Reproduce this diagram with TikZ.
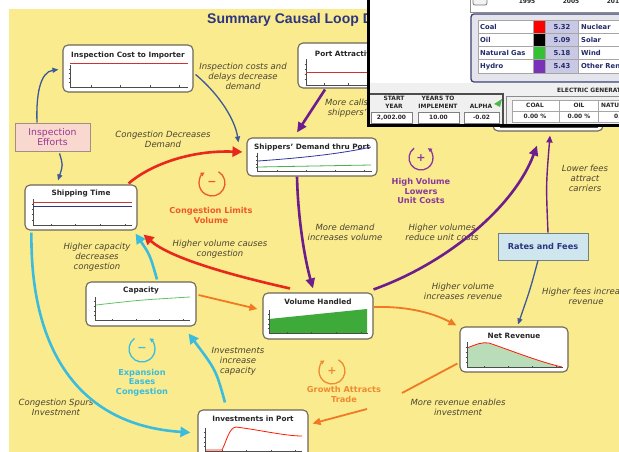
\documentclass[tikz,border=0pt]{standalone}
\usepackage{fontspec}
\setmainfont{DejaVu Sans}
\newfontfamily\titlefont{Liberation Sans}
\usetikzlibrary{arrows.meta,calc}
\definecolor{bgy}{HTML}{FAEB8E}
\definecolor{redA}{HTML}{E8281C}
\definecolor{purA}{HTML}{6E1E8C}
\definecolor{cyanA}{HTML}{3CBCDC}
\definecolor{oraA}{HTML}{F07A24}
\definecolor{bluA}{HTML}{3D5A98}
\definecolor{lblc}{HTML}{4A4430}
\definecolor{boxc}{HTML}{6E6656}
\definecolor{navy}{HTML}{2B3580}
\definecolor{navyP}{HTML}{3A3F6E}
\definecolor{panelG}{HTML}{E4E4EC}
\definecolor{lav}{HTML}{C9C9E6}
\definecolor{greenF}{HTML}{3DAA3A}
\definecolor{lgreen}{HTML}{BADDB9}
\definecolor{pinkF}{HTML}{F9D9CF}
\definecolor{magT}{HTML}{9B3593}
\definecolor{blueF}{HTML}{CFE6EF}
\definecolor{loopO}{HTML}{EE5A28}
\definecolor{loopP}{HTML}{8A3A9A}
\definecolor{loopG}{HTML}{F08A30}
\tikzset{
 chart/.style={draw=boxc, line width=1.1pt, fill=white, rounded corners=5pt, inner sep=0pt},
 ttl/.style={font=\fontsize{7.3}{8.5}\selectfont\bfseries, text=black!85, inner sep=0pt},
 lbl/.style={font=\fontsize{8.5}{10}\selectfont\itshape, text=lblc, align=center, inner sep=0pt},
 loopl/.style={font=\fontsize{8.2}{9.7}\selectfont\bfseries, align=center, inner sep=0pt},
 sign/.style={font=\fontsize{11}{11}\selectfont\bfseries, inner sep=0pt},
 axisl/.style={draw=black!70, line width=0.6pt},
 redline/.style={draw=red!75!black!80, line width=0.8pt},
 arrR/.style={draw=redA, line width=2.6pt, -{Triangle[length=10pt,width=10pt]}},
 arrP/.style={draw=purA, line width=2.6pt, -{Triangle[length=10pt,width=9pt]}},
 arrPt/.style={draw=purA, line width=1.4pt, -{Triangle[length=7pt,width=6pt]}},
 arrC/.style={draw=cyanA, line width=2.6pt, -{Triangle[length=10pt,width=10pt]}},
 arrO/.style={draw=oraA, line width=1.8pt, -{Triangle[length=8pt,width=7pt]}},
 arrB/.style={draw=bluA, line width=1.3pt, -{Triangle[length=6pt,width=5pt]}},
 tiny/.style={font=\fontsize{5.9}{7}\selectfont\bfseries, text=black!85, inner sep=0pt},
 leg/.style={font=\fontsize{6.8}{8}\selectfont\bfseries, text=navy!80!black, inner sep=0pt},
}
\newcommand{\chartaxes}[4]{%
 \draw[axisl] (#1,#2) -- (#1,#4) -- (#3,#4);
 \foreach \t in {0.18,0.43,0.68,0.93}{\draw[axisl] ({#1+\t*(#3-#1)},#4) -- ++(0,-1.5);}
 \foreach \t in {0.2,0.4,0.6,0.8}{\draw[axisl] (#1-1.5,{#2+\t*(#4-#2)}) -- (#1,{#2+\t*(#4-#2)});}
}
\begin{document}
\begin{tikzpicture}[x=1pt,y=-1pt]
\useasboundingbox (0,0) rectangle (619,452);
\fill[bgy] (9,9) rectangle (640,470);
\node[anchor=west, font=\titlefont\bfseries\fontsize{14}{16}\selectfont, text=navy, inner sep=0pt] (title) at (207,20) {Summary Causal Loop Diagram};

% ---------- chart boxes ----------
\node[chart, minimum width=130pt, minimum height=47pt] (ici) at (128,68.5) {};
\node[ttl] (icit) at (128,55.5) {Inspection Cost to Importer};
\chartaxes{70}{65}{188}{87}
\draw[redline] (70,63) -- (188,63);

\node[chart, minimum width=114pt, minimum height=45pt] (pa) at (355,65.5) {};
\node[ttl] (pat) at (355,54) {Port Attractiveness};
\chartaxes{306}{59}{405}{85}
\draw[redline] (306,72) -- (405,72);

\node[chart, minimum width=130pt, minimum height=38pt] (sd) at (312,157) {};
\node[ttl] (sdt) at (312,147.5) {Shippers' Demand thru Port};
\chartaxes{257}{153}{372}{171}
\draw[draw=blue!55!black!80, line width=0.8pt] (258,161) .. controls (300,158) and (340,154) .. (371,147);
\draw[draw=green!55!black!70, line width=0.8pt] (258,167) -- (371,165);

\node[chart, minimum width=112pt, minimum height=45pt] (st) at (81,207.5) {};
\node[ttl] (stt) at (81,193.5) {Shipping Time};
\chartaxes{33}{199}{132}{225}
\draw[redline] (33,202) -- (132,202);
\draw[draw=navy, line width=0.8pt] (33,206) -- (132,206);

\node[chart, minimum width=110pt, minimum height=44pt] (cap) at (141,304) {};
\node[ttl] (capt) at (141,290.5) {Capacity};
\chartaxes{95}{297}{190}{320}
\draw[draw=green!60!black!60, line width=0.8pt] (96,305) .. controls (140,300) .. (190,297);

\node[chart, minimum width=110pt, minimum height=46pt] (vh) at (318,316) {};
\node[ttl] (vht) at (318,302) {Volume Handled};
\fill[greenF] (269,319) -- (367,309) -- (367,333) -- (269,333) -- cycle;
\chartaxes{269}{310}{368}{333}

\node[chart, minimum width=108pt, minimum height=45pt] (nr) at (514,349.5) {};
\node[ttl] (nrt) at (514,336) {Net Revenue};
\fill[lgreen] (467,348) .. controls (477,344) and (482,342) .. (489,343) .. controls (515,352) and (540,362) .. (562,367) -- (467,367) -- cycle;
\draw[draw=red!80!orange, line width=0.8pt] (467,348) .. controls (477,344) and (482,342) .. (489,343) .. controls (515,352) and (540,362) .. (562,367);
\chartaxes{467}{342}{563}{367}

\node[chart, minimum width=110pt, minimum height=55pt] (ip) at (253,437.5) {};
\node[ttl] (ipt) at (253,419) {Investments in Port};
\chartaxes{205}{428}{302}{451}
\draw[draw=red!80!orange, line width=0.8pt] (206,450) -- (222,450) .. controls (227,440) and (229,428) .. (236,427) .. controls (260,430) and (285,436) .. (302,436);

\node[chart, minimum width=110pt, minimum height=36pt] (hid) at (548,113) {};
\draw[axisl] (500,127) -- (598,127);

\node[draw=black!35!pinkF, fill=pinkF, line width=0.8pt, minimum width=75pt, minimum height=28pt, inner sep=0pt, align=center, font=\fontsize{9.3}{10.5}\selectfont, text=magT] (ie) at (52.5,137) {Inspection\\Efforts};
\node[draw=black!45!blueF, fill=blueF, line width=0.8pt, minimum width=90pt, minimum height=27pt, inner sep=0pt, font=\fontsize{8.2}{9}\selectfont\bfseries, text=navy] (rf) at (543,246.5) {Rates and Fees};

% ---------- loop markers ----------
\draw[loopO, line width=1.3pt, -{Triangle[length=4pt,width=4pt]}] (212,183) ++(-60:13) arc[start angle=-60, end angle=235, radius=13];
\node[sign, text=loopO] (s1) at (212,183) {−};
\node[loopl, text=loopO] (l1) at (211,215.5) {Congestion Limits\\Volume};

\draw[loopP, line width=1.3pt, -{Triangle[length=4pt,width=4pt]}] (421,158) ++(235:12) arc[start angle=235, end angle=-55, radius=12];
\node[sign, text=loopP] (s2) at (421,158) {+};
\node[loopl, text=loopP] (l2) at (421,191) {High Volume\\Lowers\\Unit Costs};

\draw[cyanA, line width=1.3pt, -{Triangle[length=4pt,width=4pt]}] (142,349) ++(235:13) arc[start angle=235, end angle=-55, radius=13];
\node[sign, text=cyanA] (s3) at (142,349) {−};
\node[loopl, text=cyanA] (l3) at (142,382.5) {Expansion\\Eases\\Congestion};

\draw[loopG, line width=1.3pt, -{Triangle[length=4pt,width=4pt]}] (332,371) ++(-60:13) arc[start angle=-60, end angle=235, radius=13];
\node[sign, text=loopG] (s4) at (332,371) {+};
\node[loopl, text=loopG] (l4) at (344,394.5) {Growth Attracts\\Trade};

% ---------- italic labels ----------
\node[lbl] (t1) at (243,76) {Inspection costs and\\delays decrease\\demand};
\node[lbl] (t2) at (366,108) {More calls increase\\shippers' demand};
\node[lbl] (t3) at (163,139) {Congestion Decreases\\Demand};
\node[lbl] (t4) at (220,249.5) {Higher volume causes\\congestion};
\node[lbl] (t5) at (97,257.5) {Higher capacity\\decreases\\congestion};
\node[lbl] (t6) at (345,232) {More demand\\increases volume};
\node[lbl] (t7) at (442,232) {Higher volumes\\reduce unit costs};
\node[lbl] (t8) at (585,178.5) {Lower fees\\attract\\carriers};
\node[lbl] (t9) at (463,291) {Higher volume\\increases revenue};
\node[lbl] (t10) at (586,296.5) {Higher fees increase\\revenue};
\node[lbl] (t11) at (238,361.5) {Investments\\increase\\capacity};
\node[lbl] (t12) at (56,407.5) {Congestion Spurs\\Investment};
\node[lbl] (t13) at (458,407) {More revenue enables\\investment};

% ---------- connectors ----------
\draw[arrB] ($(ie.north)+(-15.5,0)$) .. controls (36,95) and (40,72) .. ($(ici.west)+(-4,1)$);
\draw[arrB] ($(ie.south)+(7,2)$) .. controls (63,165) .. ($(st.north)+(-23,-4)$);
\draw[arrB] ($(ici.east)+(2,6)$) .. controls (220,95) and (235,120) .. ($(sd.north west)+(-8,5)$);
\draw[arrP] ($(pa.south)+(-30,1)$) -- ($(sd.north)+(-15,-5)$);
\draw[arrR] ($(st.north east)+(-9,-1)$) .. controls (150,165) and (190,150) .. ($(sd.west)+(-4,-5)$);
\draw[arrP] ($(sd.south)+(-15,0)$) .. controls (298,220) and (305,260) .. ($(vh.north)+(-5,-4)$);
\draw[arrR] ($(vh.north)+(-28,-4)$) .. controls (230,275) and (170,258) .. ($(st.south east)+(6,4)$);
\draw[arrP] ($(vh.north east)+(0,-3)$) .. controls (450,262) and (515,205) .. ($(hid.south)+(-11,14)$);
\draw[arrPt] ($(rf.north)+(5,0)$) .. controls (546,185) .. ($(hid.south)+(2,4)$);
\draw[arrB] ($(rf.south)+(-5,0)$) .. controls (530,290) .. ($(nr.north)+(4,-2)$);
\draw[arrO] ($(vh.east)+(0,-9)$) .. controls (410,306) and (435,314) .. ($(nr.north west)+(-3,-1)$);
\draw[arrO] ($(cap.east)+(2,-9)$) -- ($(vh.west)+(-5,-7)$);
\coordinate (g1) at (402,393);
\coordinate (g2) at (367,409);
\draw[draw=oraA, line width=1.8pt] ($(nr.west)+(-2,14)$) -- (g1);
\draw[arrO] (g2) -- ($(ip.east)+(4,-14)$);
\draw[arrC] ($(st.south west)+(7,2)$) .. controls (30,345) and (75,425) .. ($(ip.west)+(-7,-5)$);
\draw[arrC] ($(ip.north)+(-28,-7)$) .. controls (216,370) .. ($(cap.south east)+(-8,7)$);
\draw[arrC] ($(cap.north)+(16,-2)$) .. controls (150,255) .. ($(st.south east)+(-2,3)$);

% ---------- inset panel ----------
\fill[white] (368,-5) rectangle (640,125);
\fill[black!6] (368,83) rectangle (640,125);
\draw[black!45, line width=.7pt] (470,-5) -- (470,12) -- (640,12);
\draw[black!55, line width=.7pt, rounded corners=2pt, fill=black!5] (473,-3) rectangle (487,5);
\node[tiny] (yr1) at (527,1.5) {1995};
\node[tiny] (yr2) at (571,1.5) {2005};
\node[tiny] (yr3) at (615,1.5) {2015};
\draw[draw=navyP, line width=1.3pt, fill=panelG, rounded corners=3pt] (471,14) rectangle (645,82);
\fill[white] (478,20.5) rectangle (645,73);
\fill[red] (533,20.5) rectangle (545,33.25);
\fill[black] (533,33.25) rectangle (545,46.5);
\fill[green!70!black!80] (533,46.5) rectangle (545,59.75);
\fill[violet!70!blue!80] (533,59.75) rectangle (545,73);
\fill[lav] (545,20.5) rectangle (578,73);
\foreach \yy in {20.5,33.25,46.5,59.75,73}{\draw[black!35, line width=.5pt] (478,\yy) -- (645,\yy);}
\foreach \xx in {478,533,545,578}{\draw[black!35, line width=.5pt] (\xx,20.5) -- (\xx,73);}
\node[leg, anchor=west] (lc) at (480,26.9) {Coal};
\node[leg, anchor=west] (lo) at (480,39.9) {Oil};
\node[leg, anchor=west] (lg) at (480,53.1) {Natural Gas};
\node[leg, anchor=west] (lh) at (480,66.4) {Hydro};
\node[leg] (v1) at (562,26.9) {5.32};
\node[leg] (v2) at (562,39.9) {5.09};
\node[leg] (v3) at (562,53.1) {5.18};
\node[leg] (v4) at (562,66.4) {5.43};
\node[leg, anchor=west] (ln) at (581,26.9) {Nuclear};
\node[leg, anchor=west] (ls) at (581,39.9) {Solar};
\node[leg, anchor=west] (lw) at (581,53.1) {Wind};
\node[leg, anchor=west] (lr) at (581,66.4) {Other Renewables};
\node[tiny, anchor=west] (elg) at (557,90) {ELECTRIC GENERATION};
\draw[black!70, line width=1.1pt] (368,94) -- (503,94) -- (503,125);
\node[tiny] (sy1) at (394,98.5) {START};
\node[tiny] (sy2) at (394,106) {YEAR};
\node[tiny] (yi1) at (438,98.5) {YEARS TO};
\node[tiny] (yi2) at (438,106) {IMPLEMENT};
\node[tiny] (al) at (481,106) {ALPHA};
\fill[green!60!black!70] (494,104) -- (502,99) -- (500,107) -- cycle;
\draw[black!50, fill=white, line width=.6pt] (371,112) rectangle (412,123);
\draw[black!50, fill=white, line width=.6pt] (418,112) rectangle (459,123);
\draw[black!50, fill=white, line width=.6pt] (464,112) rectangle (499,123);
\node[tiny] (v5) at (391.5,117.8) {2,002.00};
\node[tiny] (v6) at (438.5,117.8) {10.00};
\node[tiny] (v7) at (481.5,117.8) {-0.02};
\draw[black!45, line width=.7pt] (506,96) rectangle (645,124);
\fill[white] (512,100) rectangle (645,122);
\draw[black!35, line width=.5pt] (512,100) rectangle (645,122);
\draw[black!35, line width=.5pt] (512,111) -- (645,111);
\foreach \xx in {559,598}{\draw[black!35, line width=.5pt] (\xx,100) -- (\xx,122);}
\node[tiny] (c1) at (535,105.5) {COAL};
\node[tiny] (c2) at (579,105.5) {OIL};
\node[tiny, anchor=west] (c3) at (601,105.5) {NATURAL GAS};
\node[tiny] (p1) at (535,116.5) {0.00 \%};
\node[tiny] (p2) at (579,116.5) {0.00 \%};
\node[tiny, anchor=west] (p3) at (614,116.5) {0.00 \%};
\draw[black, line width=3pt] (368,-5) -- (368,125.5) -- (645,125.5);
\end{tikzpicture}
\end{document}
